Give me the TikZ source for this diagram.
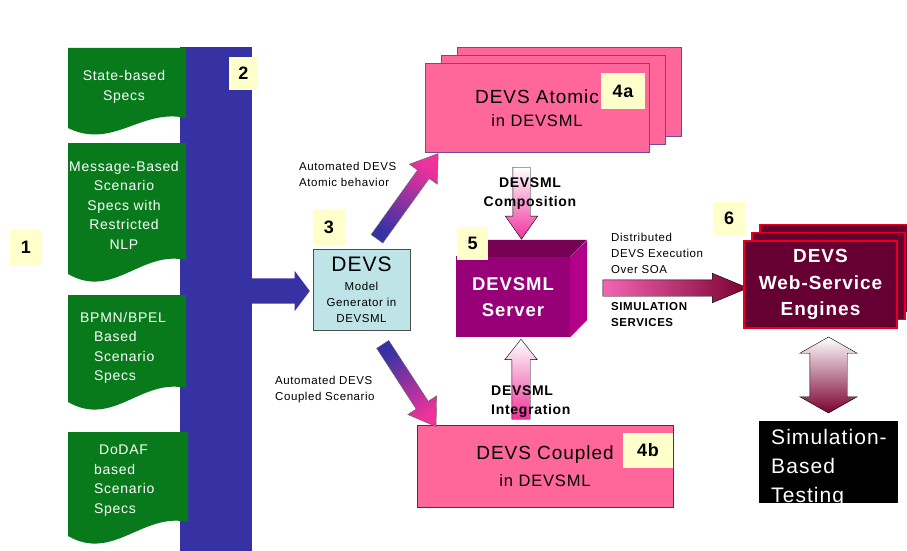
\documentclass[tikz,border=0pt]{standalone}
\usepackage{fontspec}
\setmainfont{Liberation Sans}[LetterSpace=5]
\usetikzlibrary{shapes.arrows,shadows}

\definecolor{specGreen}{RGB}{8,122,28}
\definecolor{barBlue}{RGB}{54,50,164}
\definecolor{tagYellow}{RGB}{255,255,204}
\definecolor{genCyan}{RGB}{190,228,232}
\definecolor{devsPink}{RGB}{255,102,153}
\definecolor{atomEdge}{RGB}{112,72,160}
\definecolor{coupEdge}{RGB}{48,48,160}
\definecolor{serverFront}{RGB}{152,0,120}
\definecolor{serverTop}{RGB}{118,0,82}
\definecolor{serverSide}{RGB}{178,0,136}
\definecolor{engineRed}{RGB}{102,0,51}
\definecolor{engineEdge}{RGB}{230,0,30}
\definecolor{flowPink}{RGB}{240,50,155}
\definecolor{flowMaroon}{RGB}{122,0,48}

\begin{document}
\begin{tikzpicture}[x=1pt, y=-1pt,
    tag/.style={rectangle, fill=tagYellow, inner sep=0pt, font=\fontsize{18}{20}\selectfont\bfseries},
    spec/.style={fill=specGreen},
    specText/.style={text=white, inner sep=0pt, align=center, font=\fontsize{14}{19.5}\selectfont},
    genBox/.style={rectangle, draw=black!70, fill=genCyan, inner sep=0pt, align=center, font=\fontsize{11.5}{16}\selectfont},
    devsBox/.style={rectangle, fill=devsPink, line width=1pt, inner sep=0pt, align=center},
    engineBox/.style={rectangle, fill=engineRed, draw=engineEdge, line width=1.2pt, inner sep=0pt, text=white, align=center, font=\fontsize{19}{26.5}\selectfont\bfseries},
    smallText/.style={align=left, inner sep=0pt, font=\fontsize{11.5}{16}\selectfont},
    boldText/.style={inner sep=0pt, font=\fontsize{14}{19}\selectfont\bfseries},
    blockArrow/.style={single arrow, single arrow head indent=0pt, inner xsep=0pt, draw=black, line width=0.4pt}
]
\useasboundingbox (0,0) rectangle (907,551);

% Spec documents and the blue bar
\node[rectangle, fill=barBlue, minimum width=72pt, minimum height=504pt, inner sep=0pt] (bar) at (216,299) {};
\fill[spec] (68,48) -- (186,48) -- (186,118) .. controls (141,108) and (113,150) .. (68,128) -- cycle;
\fill[spec] (68,143) -- (186,143) -- (186,260) .. controls (141,250) and (113,300) .. (68,274) -- cycle;
\fill[spec] (68,295) -- (186,295) -- (186,388) .. controls (141,378) and (113,428) .. (68,402) -- cycle;
\fill[spec] (68,432) -- (188,432) -- (188,522) .. controls (143,512) and (113,562) .. (68,536) -- cycle;
\node[specText] (spec1) at (124,87) {State-based\\Specs};
\node[specText] (spec2) at (124,205) {Message-Based\\Scenario\\Specs with\\Restricted\\NLP};
\node[specText, anchor=west, align=left] (spec3) at (80,348) {BPMN/BPEL\\\hspace*{14pt}Based\\\hspace*{14pt}Scenario\\\hspace*{14pt}Specs};
\node[specText, anchor=west, align=left] (spec4) at (94,480.5) {\hspace*{5pt}DoDAF\\based\\Scenario\\Specs};

% Model generator
\node[genBox, minimum width=97pt, minimum height=81pt] (generator) at (361.5,289.5) {{\fontsize{21}{21}\selectfont DEVS}\\[3pt]Model\\Generator in\\DEVSML};
\node[blockArrow, draw=none, fill=barBlue, inner ysep=12.5pt, minimum height=60pt, minimum width=40pt, single arrow head extend=7.5pt, single arrow tip angle=106] (feedArrow) at (275,291) {};

% Atomic and coupled models
\node[devsBox, draw=atomEdge, minimum width=224pt, minimum height=88pt, font=\fontsize{19}{23}\selectfont,
    copy shadow={shadow xshift=32pt, shadow yshift=16pt, fill=devsPink, draw=atomEdge, line width=1pt},
    copy shadow={shadow xshift=16pt, shadow yshift=8pt, fill=devsPink, draw=atomEdge, line width=1pt}]
    (atomic) at (537,108) {DEVS Atomic\\{\fontsize{16.5}{20}\selectfont in DEVSML}};
\node[devsBox, draw=coupEdge, minimum width=256pt, minimum height=82pt, font=\fontsize{19}{27}\selectfont] (coupled) at (545,466) {DEVS Coupled\\{\fontsize{16.5}{20}\selectfont in DEVSML}};

\node[blockArrow, draw=black!60, rotate=54.3, bottom color=barBlue, top color=flowPink, shading angle=-35.7, inner ysep=7pt, minimum height=105pt, minimum width=34pt, single arrow head extend=10pt, single arrow tip angle=68] (atomicArrow) at (404.5,200.5) {};
\node[blockArrow, draw=black!60, rotate=-57, bottom color=barBlue, top color=flowPink, shading angle=-147, inner ysep=7pt, minimum height=98pt, minimum width=34pt, single arrow head extend=10pt, single arrow tip angle=68] (coupledArrow) at (406.5,381) {};
\node[smallText, anchor=west] (atomicNote) at (299,174.5) {Automated DEVS\\Atomic behavior};
\node[smallText, anchor=west] (coupledNote) at (275,390) {Automated DEVS\\Coupled Scenario};

% DEVSML server cube
\node[rectangle, fill=serverFront, minimum width=114pt, minimum height=80pt, inner sep=0pt, text=white, align=center, font=\fontsize{18.5}{26}\selectfont\bfseries] (server) at (513,297) {DEVSML\\Server};
\fill[serverTop] (server.north west) -- ++(17,-17) -- ++(114,0) -- (server.north east) -- cycle;
\fill[serverSide] (server.north east) -- ++(17,-17) -- ++(0,80) -- (server.south east) -- cycle;

\node[blockArrow, rotate=-90, top color=white, bottom color=flowPink, inner ysep=8.5pt, minimum height=72pt, minimum width=32pt, single arrow head extend=7.5pt, single arrow tip angle=70] (composeArrow) at (521.5,197) {};
\node[blockArrow, rotate=90, top color=white, middle color=flowPink, bottom color=flowPink, inner ysep=9pt, minimum height=80pt, minimum width=32pt, single arrow head extend=7pt, single arrow tip angle=77] (integrateArrow) at (521,385) {};
\node[boldText, align=center] (composeNote) at (530,193.5) {DEVSML\\Composition};
\node[boldText, align=left, anchor=west] (integrateNote) at (491,401.5) {DEVSML\\Integration};

% Simulation services
\node[blockArrow, left color=flowPink!75!white, right color=flowMaroon, inner ysep=8pt, minimum height=145pt, minimum width=29pt, single arrow head extend=6.5pt, single arrow tip angle=45] (serviceArrow) at (665.5,288) {};
\node[smallText, anchor=west] (execNote) at (611,253) {Distributed\\DEVS Execution\\Over SOA};
\node[smallText, anchor=west, font=\fontsize{11.5}{16}\selectfont\bfseries] (serviceNote) at (611,315) {SIMULATION\\SERVICES};

\node[engineBox, minimum width=153pt, minimum height=87pt,
    copy shadow={shadow xshift=16pt, shadow yshift=16.5pt, fill=engineRed, draw=engineEdge, line width=1.2pt},
    copy shadow={shadow xshift=8pt, shadow yshift=8.2pt, fill=engineRed, draw=engineEdge, line width=1.2pt}]
    (engines) at (820.5,284.5) {DEVS\\Web-Service\\Engines};

% Testing
\node[double arrow, double arrow head indent=0pt, inner xsep=0pt, inner ysep=18.5pt, draw=black, line width=0.4pt, rotate=90, top color=white, middle color=flowMaroon, bottom color=flowMaroon, minimum height=76pt, minimum width=57pt, double arrow head extend=10pt, double arrow tip angle=121] (testArrow) at (828.5,375) {};
\node[rectangle, fill=black, minimum width=139pt, minimum height=82pt, inner sep=0pt] (testing) at (828.5,462) {};
\begin{scope}
\clip (testing.south west) rectangle (testing.north east);
\node[text=white, inner sep=0pt, align=left, font=\fontsize{21}{29}\selectfont] (testText) at (829,468) {Simulation-\\Based\\Testing};
\end{scope}

% Step numbers
\node[tag, minimum width=32pt, minimum height=35pt] (tag1) at (26,247.5) {1};
\node[tag, minimum width=29pt, minimum height=33pt] (tag2) at (243.5,73.5) {2};
\node[tag, minimum width=32pt, minimum height=36pt] (tag3) at (329,227) {3};
\node[tag, minimum width=44pt, minimum height=36pt] (tag4a) at (623,91) {4a};
\node[tag, minimum width=50pt, minimum height=35pt] (tag4b) at (648,450.5) {4b};
\node[tag, minimum width=31pt, minimum height=33pt] (tag5) at (472.5,243.5) {5};
\node[tag, minimum width=32pt, minimum height=33pt] (tag6) at (729,218.5) {6};

\end{tikzpicture}
\end{document}
